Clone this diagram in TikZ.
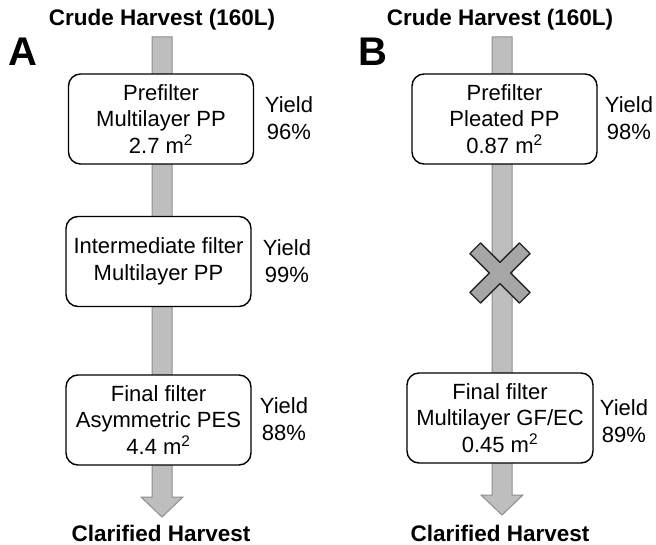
\documentclass[tikz,border=0pt]{standalone}
\usepackage{fontspec}
\setmainfont{Liberation Sans}
\usetikzlibrary{calc}
\definecolor{shaftfill}{HTML}{BEBEBE}
\definecolor{shaftedge}{HTML}{8E8E8E}
\definecolor{crossfill}{HTML}{A6A6A6}
\begin{document}
\begin{tikzpicture}[x=1pt,y=-1pt,
  filterbox/.style={draw=black,line width=1.4pt,rounded corners=12pt,fill=white,
    align=center,inner sep=0pt,minimum width=185pt,minimum height=90pt,
    font=\fontsize{22}{26.5}\selectfont},
  yieldtext/.style={align=center,inner sep=0pt,font=\fontsize{22}{27.5}\selectfont},
  headtext/.style={inner sep=0pt,font=\fontsize{22.5}{25}\selectfont\bfseries},
  paneltext/.style={inner sep=0pt,font=\fontsize{40}{44}\selectfont\bfseries},
  flowarrow/.style={fill=shaftfill,draw=shaftedge,line width=1pt,line join=miter},
]
\useasboundingbox (0,0) rectangle (656,545);

% ---------- Panel A ----------
\node[headtext] (Atitle) at (162,20) {Crude Harvest (160L)};
\node[paneltext] (Alabel) at (23,52) {A};
\coordinate (Atop) at (162,37);
\coordinate (Atip) at (162,517);
\draw[flowarrow] ($(Atop)+(-10,0)$) -- ($(Atop)+(10,0)$) -- ($(Atip)+(10,-20)$)
  -- ($(Atip)+(21,-20)$) -- (Atip) -- ($(Atip)+(-21,-20)$) -- ($(Atip)+(-10,-20)$) -- cycle;
\node[headtext] (Aend) at (161,533) {Clarified Harvest};

\node[filterbox] (A1) at (161,119) {Prefilter\\Multilayer PP\\2.7 m\textsuperscript{2}};
\node[yieldtext] (A1y) at (289,118) {Yield\\96\%};
\node[filterbox] (A2) at (158.5,261.5) {Intermediate filter\\Multilayer PP};
\node[yieldtext] (A2y) at (287,261) {Yield\\99\%};
\node[filterbox] (A3) at (158.5,420) {Final filter\\Asymmetric PES\\4.4 m\textsuperscript{2}};
\node[yieldtext] (A3y) at (284,419) {Yield\\88\%};

% ---------- Panel B ----------
\node[headtext] (Btitle) at (500,20) {Crude Harvest (160L)};
\node[paneltext] (Blabel) at (373,52) {B};
\coordinate (Btop) at (502,37);
\coordinate (Btip) at (502,515);
\draw[flowarrow] ($(Btop)+(-10,0)$) -- ($(Btop)+(10,0)$) -- ($(Btip)+(10,-20)$)
  -- ($(Btip)+(21,-20)$) -- (Btip) -- ($(Btip)+(-21,-20)$) -- ($(Btip)+(-10,-20)$) -- cycle;
\node[headtext] (Bend) at (500,533) {Clarified Harvest};

\node[filterbox] (B1) at (504.5,119) {Prefilter\\Pleated PP\\0.87 m\textsuperscript{2}};
\node[yieldtext] (B1y) at (629,118) {Yield\\98\%};
\node[filterbox,minimum width=186pt] (B2) at (500,418) {Final filter\\Multilayer GF/EC\\0.45 m\textsuperscript{2}};
\node[yieldtext] (B2y) at (624,421) {Yield\\89\%};

% cross (removed intermediate filter)
\coordinate (X) at (500,273);
\draw[fill=crossfill,draw=black!85,line width=1.3pt,line join=round,rotate around={45:(X)}]
  ($(X)+(-7.5,-35)$) -- ($(X)+(7.5,-35)$) -- ($(X)+(7.5,-7.5)$) -- ($(X)+(35,-7.5)$)
  -- ($(X)+(35,7.5)$) -- ($(X)+(7.5,7.5)$) -- ($(X)+(7.5,35)$) -- ($(X)+(-7.5,35)$)
  -- ($(X)+(-7.5,7.5)$) -- ($(X)+(-35,7.5)$) -- ($(X)+(-35,-7.5)$) -- ($(X)+(-7.5,-7.5)$) -- cycle;
\end{tikzpicture}
\end{document}
